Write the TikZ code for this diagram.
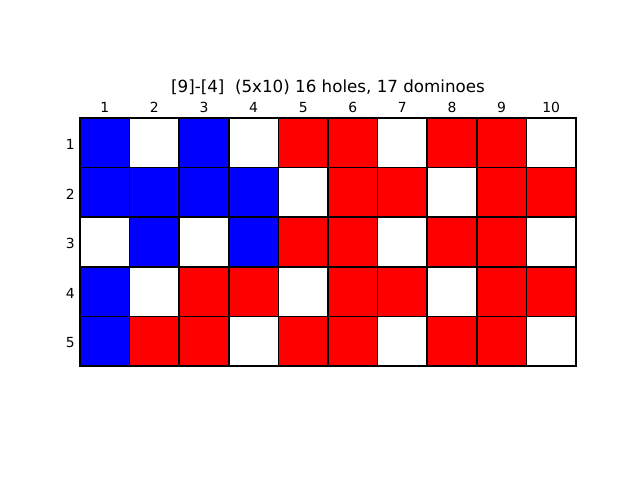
\documentclass[tikz,border=0pt]{standalone}
\usepackage{fontspec}
\setmainfont{DejaVu Sans}
\usetikzlibrary{positioning}
\definecolor{dmB}{RGB}{0,0,255}
\definecolor{dmR}{RGB}{255,0,0}
\definecolor{dmW}{RGB}{255,255,255}
\tikzset{
  dmCell/.style={fill=#1, minimum size=49.6pt, inner sep=0pt, outer sep=0pt},
  dmEdge/.style={draw=black, line width=1.6pt},
  dmTick/.style={font=\fontsize{13.9}{16}\selectfont, inner sep=0pt},
  dmTitle/.style={font=\fontsize{16.7}{20}\selectfont, inner sep=0pt}
}
\begin{document}
\begin{tikzpicture}[x=1pt,y=-1pt]
  \useasboundingbox (0,0) rectangle (640,480);
  \node[dmTitle] (title) at (328,87) {[9]-[4]\ \ (5x10) 16 holes, 17 dominoes};
  % board, row by row
  \foreach \row [count=\r] in {{B,W,B,W,R,R,W,R,R,W},
                               {B,B,B,B,W,R,R,W,R,R},
                               {W,B,W,B,R,R,W,R,R,W},
                               {B,W,R,R,W,R,R,W,R,R},
                               {B,R,R,W,R,R,W,R,R,W}} {
    \foreach \c [count=\k] in \row {
      \node[dmCell=dm\c] (c\r-\k) at ({80+49.6*(\k-0.5)},{118+49.6*(\r-0.5)}) {};
    }
  }
  % cell edges on top of the fills
  \foreach \r in {1,...,5}{
    \foreach \k in {1,...,10}{
      \draw[dmEdge] (c\r-\k.north west) -- (c\r-\k.north east) -- (c\r-\k.south east)
        -- (c\r-\k.south west) -- cycle;
    }
  }
  \foreach \k in {1,...,10}
    \node[dmTick, above=5.5pt of c1-\k] (col\k) {\k};
  \foreach \r in {1,...,5}
    \node[dmTick, left=5pt of c\r-1, yshift=-1.5pt] (row\r) {\r};
\end{tikzpicture}
\end{document}
